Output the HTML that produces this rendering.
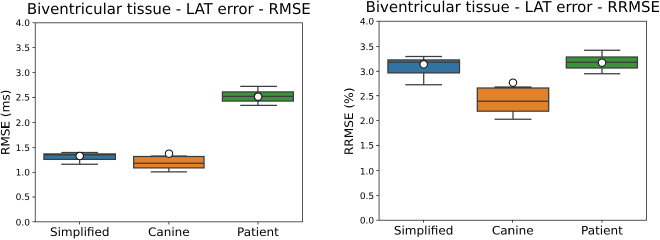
<!DOCTYPE html>
<html><head><meta charset="utf-8"><title>LAT error boxplots</title>
<style>html,body{margin:0;padding:0;background:#fff;overflow:hidden}#wrap{position:relative;width:660px;height:240px;overflow:hidden;background:#fff}#fig{position:absolute;left:0;top:0;width:1320px;height:480px;transform:scale(0.5);transform-origin:0 0;will-change:transform}svg{display:block}text{font-family:'DejaVu Sans','Liberation Sans',sans-serif;fill:#000;text-rendering:geometricPrecision}</style>
</head><body>
<div id="wrap"><div id="fig">
<svg width="1320" height="480" viewBox="0 0 660 240">
<rect width="660" height="240" fill="#fff"/>
<g>
<path d="M79.67 153.9V152.5M79.67 159.4V164.25M61.25 152.5H98M61.25 164.25H98" stroke="#3d3d3d" stroke-width="1.25" fill="none"/>
<rect x="43.9" y="153.9" width="71.5" height="5.5" fill="#3274a1" stroke="#3d3d3d" stroke-width="1.25"/>
<path d="M43.9 154.9H115.4" stroke="#3d3d3d" stroke-width="1.25"/>
<circle cx="79.75" cy="156" r="3.72" fill="#fff" stroke="#111" stroke-width="1.02"/>
<path d="M168.85 156.5V156M168.85 167.9V171.9M150.75 156H187M150.75 171.9H187" stroke="#3d3d3d" stroke-width="1.25" fill="none"/>
<rect x="133.65" y="156.5" width="70.4" height="11.4" fill="#e1812c" stroke="#3d3d3d" stroke-width="1.25"/>
<path d="M133.65 163.25H204.05" stroke="#3d3d3d" stroke-width="1.25"/>
<circle cx="169" cy="153.67" r="3.72" fill="#fff" stroke="#111" stroke-width="1.02"/>
<path d="M257.9 91.9V86.4M257.9 101.1V105.4M240.25 86.4H277M240.25 105.4H277" stroke="#3d3d3d" stroke-width="1.25" fill="none"/>
<rect x="222.4" y="91.9" width="71" height="9.2" fill="#3a923a" stroke="#3d3d3d" stroke-width="1.25"/>
<path d="M222.4 96.4H293.4" stroke="#3d3d3d" stroke-width="1.25"/>
<circle cx="258.1" cy="96.67" r="3.72" fill="#fff" stroke="#111" stroke-width="1.02"/>
<rect x="35.2" y="22.85" width="267.25" height="199" fill="none" stroke="#000" stroke-width="0.67"/>
<text x="30" y="225.5" font-size="9" text-anchor="end">0.0</text>
<text x="30" y="200" font-size="9" text-anchor="end">0.5</text>
<text x="30" y="175.5" font-size="9" text-anchor="end">1.0</text>
<text x="30" y="151" font-size="9" text-anchor="end">1.5</text>
<text x="30" y="126" font-size="9" text-anchor="end">2.0</text>
<text x="30" y="100.5" font-size="9" text-anchor="end">2.5</text>
<text x="30" y="76" font-size="9" text-anchor="end">3.0</text>
<text x="30" y="51" font-size="9" text-anchor="end">3.5</text>
<text x="30" y="26" font-size="9" text-anchor="end">4.0</text>
<text transform="translate(79.74 235.75) scale(1.028 1)" font-size="11.7" text-anchor="middle">Simplified</text>
<text transform="translate(168.82 235.75) scale(1.028 1)" font-size="11.7" text-anchor="middle">Canine</text>
<text transform="translate(257.91 235.75) scale(1.028 1)" font-size="11.7" text-anchor="middle">Patient</text>
<path d="M32.4 221.85H35.2M32.4 197H35.2M32.4 172.4H35.2M32.4 147.3H35.2M32.4 122.4H35.2M32.4 97.5H35.2M32.4 72.4H35.2M32.4 47.7H35.2M32.4 22.85H35.2M79.5 221.85V224.45M168.9 221.85V224.45M258 221.85V224.45" stroke="#000" stroke-width="0.67" fill="none"/>
<text transform="translate(168.82 14.1) scale(1.0 1)" font-size="14.95" text-anchor="middle">Biventricular tissue - LAT error - RMSE</text>
<text transform="translate(9.5 122.35) rotate(-90) scale(1.033 1)" font-size="11.7" text-anchor="middle">RMSE (ms)</text>
</g>
<g>
<path d="M423.7 59.9V56.5M423.7 72.9V84.7M405.25 56.5H442M405.25 84.7H442" stroke="#3d3d3d" stroke-width="1.25" fill="none"/>
<rect x="387.9" y="59.9" width="71.6" height="13" fill="#3274a1" stroke="#3d3d3d" stroke-width="1.25"/>
<path d="M387.9 62.25H459.5" stroke="#3d3d3d" stroke-width="1.25"/>
<circle cx="423.7" cy="64.3" r="3.72" fill="#fff" stroke="#111" stroke-width="1.02"/>
<path d="M513 88V87M513 111.2V119.3M494.5 87H531.5M494.5 119.3H531.5" stroke="#3d3d3d" stroke-width="1.25" fill="none"/>
<rect x="477.3" y="88" width="71.4" height="23.2" fill="#e1812c" stroke="#3d3d3d" stroke-width="1.25"/>
<path d="M477.3 101.3H548.7" stroke="#3d3d3d" stroke-width="1.25"/>
<circle cx="513" cy="82.67" r="3.72" fill="#fff" stroke="#111" stroke-width="1.02"/>
<path d="M602 57V50.3M602 68V73.7M584 50.3H620.3M584 73.7H620.3" stroke="#3d3d3d" stroke-width="1.25" fill="none"/>
<rect x="566.3" y="57" width="71.1" height="11" fill="#3a923a" stroke="#3d3d3d" stroke-width="1.25"/>
<path d="M566.3 62.3H637.4" stroke="#3d3d3d" stroke-width="1.25"/>
<circle cx="602" cy="62.67" r="3.72" fill="#fff" stroke="#111" stroke-width="1.02"/>
<rect x="379.05" y="21.2" width="267.45" height="199" fill="none" stroke="#000" stroke-width="0.67"/>
<text x="374.15" y="223.5" font-size="9" text-anchor="end">0.0</text>
<text x="374.15" y="199" font-size="9" text-anchor="end">0.5</text>
<text x="374.15" y="174.5" font-size="9" text-anchor="end">1.0</text>
<text x="374.15" y="148.5" font-size="9" text-anchor="end">1.5</text>
<text x="374.15" y="124" font-size="9" text-anchor="end">2.0</text>
<text x="374.15" y="99.5" font-size="9" text-anchor="end">2.5</text>
<text x="374.15" y="75" font-size="9" text-anchor="end">3.0</text>
<text x="374.15" y="50" font-size="9" text-anchor="end">3.5</text>
<text x="374.15" y="24.5" font-size="9" text-anchor="end">4.0</text>
<text transform="translate(423.62 234.5) scale(1.028 1)" font-size="11.7" text-anchor="middle">Simplified</text>
<text transform="translate(512.77 234.5) scale(1.028 1)" font-size="11.7" text-anchor="middle">Canine</text>
<text transform="translate(601.92 234.5) scale(1.028 1)" font-size="11.7" text-anchor="middle">Patient</text>
<path d="M376.25 220.2H379.05M376.25 195.45H379.05M376.25 170.45H379.05M376.25 145.5H379.05M376.25 120.7H379.05M376.25 95.75H379.05M376.25 71.25H379.05M376.25 46.3H379.05M376.25 21.2H379.05M423.5 220.2V222.8M512.6 220.2V222.8M602 220.2V222.8" stroke="#000" stroke-width="0.67" fill="none"/>
<text transform="translate(512.77 11.9) scale(1.0 1)" font-size="14.95" text-anchor="middle">Biventricular tissue - LAT error - RRMSE</text>
<text transform="translate(352.9 121.35) rotate(-90) scale(1.039 1)" font-size="11.7" text-anchor="middle">RRMSE (%)</text>
</g>
</svg>
</div></div>
</body></html>
